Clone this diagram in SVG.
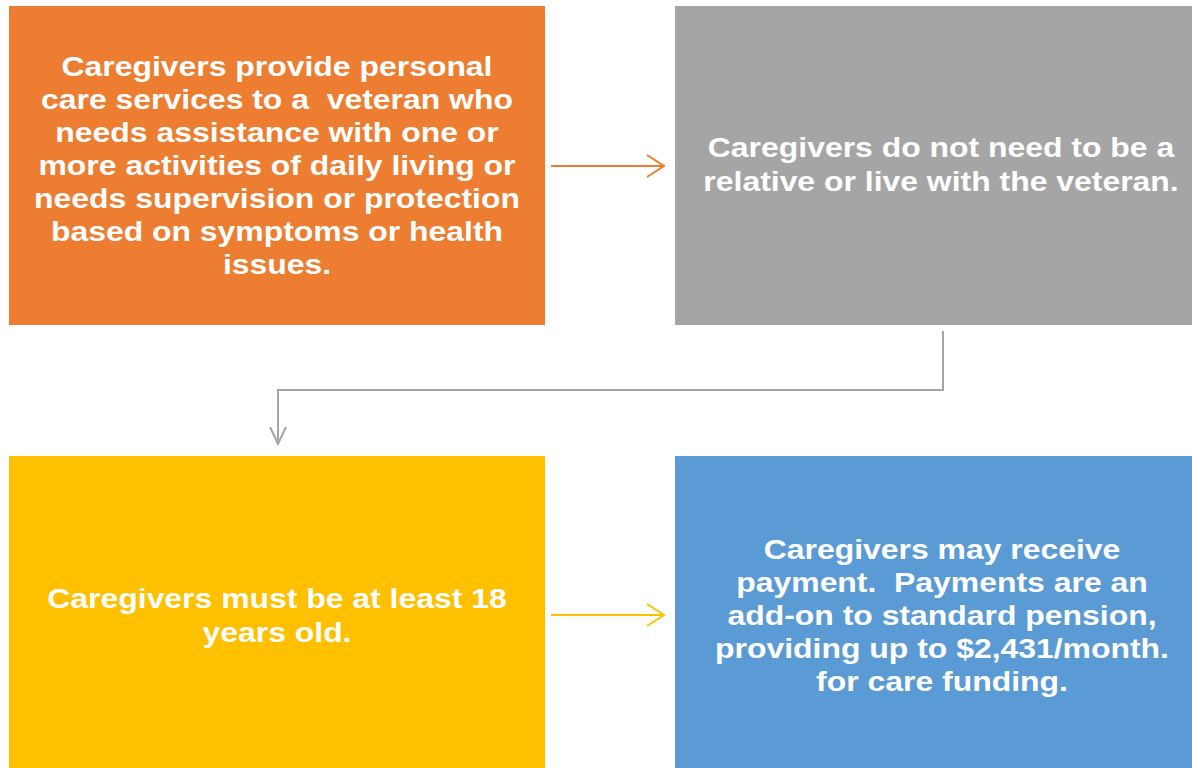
<svg xmlns="http://www.w3.org/2000/svg" width="1192" height="768" viewBox="0 0 1192 768">
<style>
text{font-family:"Liberation Sans",Arial,sans-serif;font-weight:bold;font-size:28px;fill:#fff;text-anchor:middle;white-space:pre}
.c{fill:none;stroke-width:2}
</style>
<rect width="1192" height="768" fill="#fff"/>
<g id="n1"><rect x="9" y="6" width="536" height="319" fill="#ED7D31"/>
<text transform="translate(277 0) scale(1.14 1)" xml:space="preserve"><tspan x="0" y="76">Caregivers provide personal</tspan><tspan x="0" y="109">care services to a  veteran who</tspan><tspan x="0" y="142">needs assistance with one or</tspan><tspan x="0" y="175">more activities of daily living or</tspan><tspan x="0" y="208">needs supervision or protection</tspan><tspan x="0" y="241">based on symptoms or health</tspan><tspan x="0" y="274">issues.</tspan></text></g>
<g id="n2"><rect x="675" y="6" width="517" height="319" fill="#A5A5A5"/>
<text transform="translate(941 0) scale(1.14 1)"><tspan x="0" y="157">Caregivers do not need to be a</tspan><tspan x="0" y="191">relative or live with the veteran.</tspan></text></g>
<g id="n3"><rect x="9" y="456" width="536" height="312" fill="#FFC000"/>
<text transform="translate(277 0) scale(1.14 1)"><tspan x="0" y="608">Caregivers must be at least 18</tspan><tspan x="0" y="642">years old.</tspan></text></g>
<g id="n4"><rect x="675" y="456" width="517" height="312" fill="#5B9BD5"/>
<text transform="translate(942 0) scale(1.14 1)" xml:space="preserve"><tspan x="0" y="559">Caregivers may receive</tspan><tspan x="0" y="592">payment.  Payments are an</tspan><tspan x="0" y="625">add-on to standard pension,</tspan><tspan x="0" y="658">providing up to $2,431/month.</tspan><tspan x="0" y="691">for care funding.</tspan></text></g>
<g id="connectors">
<path class="c" stroke="#ED7D31" d="M551 166H664M647 155L664 166L647 177"/>
<path class="c" stroke="#A5A5A5" d="M943 331V390H278V444M270 427L278 444L286 427"/>
<path class="c" stroke="#FFC000" d="M551 615H664M647 604L664 615L647 626"/>
</g>
</svg>
